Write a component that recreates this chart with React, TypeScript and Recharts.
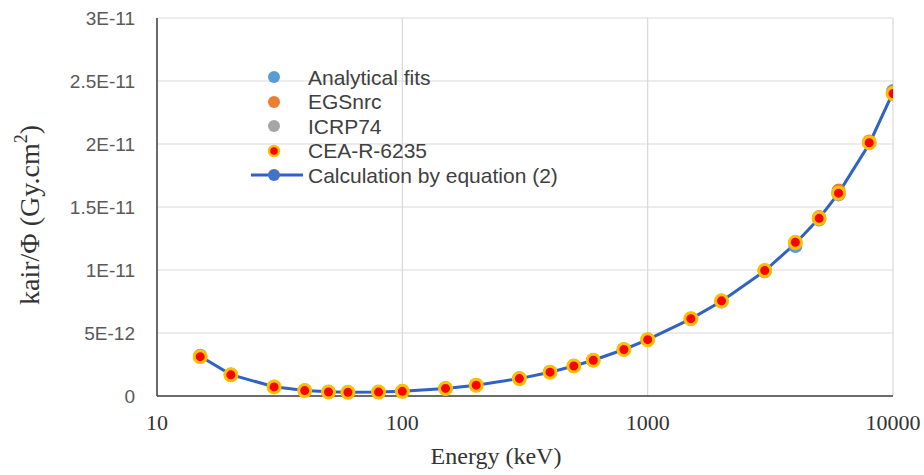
import { ComposedChart, Scatter, XAxis, YAxis, CartesianGrid, Legend, Label } from 'recharts';

// photon energies (keV)
const energies = [15, 20, 30, 40, 50, 60, 80, 100, 150, 200, 300, 400, 500, 600, 800, 1000, 1500, 2000, 3000, 4000, 5000, 6000, 8000, 10000];

// air kerma per fluence, in pGy.cm2 (scaled to Gy.cm2 below)
const analyticalFits = [3.2, 1.69, 0.74, 0.44, 0.33, 0.29, 0.31, 0.37, 0.6, 0.86, 1.39, 1.9, 2.39, 2.85, 3.7, 4.48, 6.14, 7.5, 9.9, 11.9, 14.0, 16.0, 20.1, 24.2];
const egsnrc = [3.14, 1.69, 0.73, 0.43, 0.32, 0.29, 0.31, 0.37, 0.6, 0.86, 1.38, 1.89, 2.38, 2.84, 3.69, 4.47, 6.14, 7.55, 9.96, 12.2, 14.2, 16.3, 20.2, 24.1];
const icrp74 = [3.12, 1.68, 0.721, 0.429, 0.323, 0.289, 0.307, 0.371, 0.599, 0.856, 1.38, 1.89, 2.38, 2.84, 3.69, 4.47, 6.14, 7.55, 9.96, 12.1, 14.1, 16.1, 20.1, 24.0];
const cea6235 = [3.12, 1.68, 0.72, 0.43, 0.32, 0.29, 0.31, 0.37, 0.6, 0.86, 1.38, 1.89, 2.38, 2.84, 3.69, 4.47, 6.14, 7.55, 9.96, 12.2, 14.1, 16.1, 20.1, 24.0];
const equation2 = [3.15, 1.7, 0.73, 0.43, 0.33, 0.29, 0.31, 0.37, 0.6, 0.86, 1.38, 1.89, 2.38, 2.84, 3.69, 4.47, 6.12, 7.52, 9.93, 12.1, 14.1, 16.1, 20.0, 24.1];

const xTicks = [10, 100, 1000, 10000];
const yTicks = [0, 5e-12, 1e-11, 1.5e-11, 2e-11, 2.5e-11, 3e-11];

const toRows = (vals: number[]) => energies.map((e, i) => ({ e, v: vals[i] * 1e-12 }));

const series = [
  { name: 'Analytical fits', color: '#5B9BD5', data: toRows(analyticalFits) },
  { name: 'EGSnrc', color: '#ED7D31', data: toRows(egsnrc) },
  { name: 'ICRP74', color: '#A5A5A5', data: toRows(icrp74) },
];
const ceaData = toRows(cea6235);
const eqData = toRows(equation2);

const LINE_COLOR = '#2F62C4';

const fmtY = (v: number) => (v === 0 ? '0' : v.toExponential().replace('e', 'E').replace('+', ''));

const dot = (color: string, r = 7) => (props: any) => (
  <circle cx={props.cx} cy={props.cy} r={r} fill={color} />
);

const ceaDot = (props: any) => (
  <circle cx={props.cx} cy={props.cy} r={6} fill="#FF0000" stroke="#FFC000" strokeWidth={3} />
);

const legendRows = [
  { name: 'Analytical fits', kind: 'dot', color: '#5B9BD5' },
  { name: 'EGSnrc', kind: 'dot', color: '#ED7D31' },
  { name: 'ICRP74', kind: 'dot', color: '#A5A5A5' },
  { name: 'CEA-R-6235', kind: 'cea', color: '#FF0000' },
  { name: 'Calculation by equation (2)', kind: 'line', color: LINE_COLOR },
];

const renderLegend = () => (
  <div style={{ fontFamily: '"Liberation Sans", Arial, sans-serif', fontSize: 21, color: '#404040' }}>
    {legendRows.map((r) => (
      <div key={r.name} style={{ display: 'flex', alignItems: 'center', height: 24.5 }}>
        <svg width={56} height={20} style={{ marginRight: 3 }}>
          {r.kind === 'line' && <line x1={2} y1={10} x2={54} y2={10} stroke={r.color} strokeWidth={3} />}
          {r.kind === 'cea' ? (
            <circle cx={25} cy={10} r={5} fill="#FF0000" stroke="#FFC000" strokeWidth={2.5} />
          ) : (
            <circle cx={25} cy={10} r={6} fill={r.kind === 'line' ? '#4472C4' : r.color} />
          )}
        </svg>
        <span style={{ lineHeight: 1 }}>{r.name}</span>
      </div>
    ))}
  </div>
);

export default function App() {
  return (
    <div style={{ position: 'absolute', left: 0, top: 0, background: '#fff' }}>
      <ComposedChart width={924} height={475} margin={{ top: 18, right: 31, left: 0, bottom: 0 }}>
        <CartesianGrid stroke="#D9D9D9" strokeWidth={1.2} />
        <XAxis
          dataKey="e"
          type="number"
          scale="log"
          domain={[10, 10000]}
          ticks={xTicks}
          allowDataOverflow
          height={79}
          tickSize={0}
          tickMargin={18}
          axisLine={{ stroke: '#404040', strokeWidth: 1.5 }}
          tick={{ fill: '#333', fontSize: 22, fontFamily: '"Liberation Serif", "Times New Roman", serif' }}
        >
          <Label
            content={(p: any) => (
              <text
                x={p.viewBox.x + p.viewBox.width / 2 - 29}
                y={p.viewBox.y + 62}
                textAnchor="middle"
                dominantBaseline="middle"
                fontSize={24}
                fill="#333"
                fontFamily='"Liberation Serif", "Times New Roman", serif'
              >
                Energy (keV)
              </text>
            )}
          />
        </XAxis>
        <YAxis
          dataKey="v"
          type="number"
          domain={[0, 3e-11]}
          ticks={yTicks}
          width={157}
          tickSize={0}
          tickMargin={22}
          tickFormatter={fmtY}
          axisLine={{ stroke: '#404040', strokeWidth: 1.5 }}
          tick={{ fill: '#595959', fontSize: 19, fontFamily: '"Liberation Sans", Arial, sans-serif' }}
        >
          <Label
            content={(p: any) => {
              const cx = p.viewBox.x + 33;
              const cy = p.viewBox.y + p.viewBox.height / 2 + 8;
              return (
                <text
                  x={cx}
                  y={cy}
                  transform={`rotate(-90, ${cx}, ${cy})`}
                  textAnchor="middle"
                  dominantBaseline="middle"
                  fontSize={28}
                  fill="#333"
                  fontFamily='"Liberation Serif", "Times New Roman", serif'
                >
                  kair/Φ (Gy.cm
                  <tspan fontSize={18} dy={-10}>2</tspan>
                  <tspan dy={10}>)</tspan>
                </text>
              );
            }}
          />
        </YAxis>
        <Legend
          layout="vertical"
          align="center"
          verticalAlign="middle"
          content={renderLegend}
          wrapperStyle={{ left: 249, top: 65, width: 340, height: 125 }}
        />
        <Scatter
          name="Calculation by equation (2)"
          data={eqData}
          dataKey="v"
          fill="#4472C4"
          line={{ stroke: LINE_COLOR, strokeWidth: 3 }}
          lineType="joint"
          shape={dot('#4472C4', 5)}
          isAnimationActive={false}
        />
        {series.map((s) => (
          <Scatter
            key={s.name}
            name={s.name}
            data={s.data}
            dataKey="v"
            fill={s.color}
            shape={dot(s.color)}
            isAnimationActive={false}
          />
        ))}
        <Scatter name="CEA-R-6235" data={ceaData} dataKey="v" fill="#FF0000" shape={ceaDot} isAnimationActive={false} />
      </ComposedChart>
    </div>
  );
}
